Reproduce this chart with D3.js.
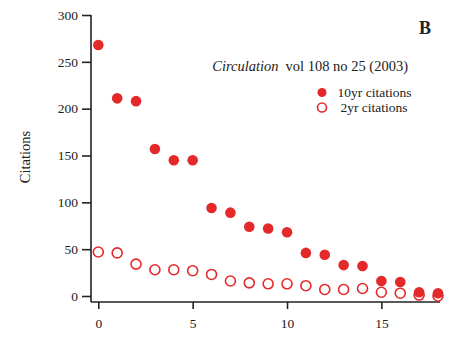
<!DOCTYPE html>
<html><head><meta charset="utf-8">
<script src="https://cdn.jsdelivr.net/npm/d3@7"></script>
<style>body{margin:0;background:#fff}svg{display:block}text{font-family:"Liberation Serif","Times New Roman",serif;fill:#222}</style>
</head><body><svg id="c" width="453" height="359"></svg>
<script>
const years = d3.range(0, 19);
const tenYr = [268,211,208,157,145,145,94,89,74,72,68,46,44,33,32,16,15,4,3];
const twoYr = [47,46,34,28,28,27,23,16,14,13,13,11,7,7,8,4,3,1,0];
const xTicks = [0,5,10,15];
const yTicks = [0,50,100,150,200,250,300];
const seriesNames = ["10yr citations","2yr citations"];
const red = "#e4292a";

const svg = d3.select("#c");
const x = d3.scaleLinear().domain([0,18]).range([98.3, 438.0]);
const y = d3.scaleLinear().domain([0,300]).range([296, 15]);

// y axis
const yg = svg.append("g").attr("transform","translate(91,0)");
yg.call(d3.axisLeft(y).tickValues(yTicks).tickSize(9).tickPadding(4));
yg.select(".domain").remove();
yg.append("line").attr("x1",0).attr("x2",0).attr("y1",y(300)).attr("y2",302).attr("stroke","#222").attr("stroke-width",1.6);
yg.selectAll(".tick line").attr("stroke","#222").attr("stroke-width",1.6);
yg.selectAll(".tick text").style("font-size","13.5px").attr("fill","#222");

// x axis
const xg = svg.append("g").attr("transform","translate(0,302)");
xg.call(d3.axisBottom(x).tickValues(xTicks).tickSize(7).tickPadding(9));
xg.select(".domain").remove();
xg.append("line").attr("x1",91).attr("x2",440).attr("y1",0).attr("y2",0).attr("stroke","#222").attr("stroke-width",1.6);
xg.selectAll(".tick line").attr("stroke","#222").attr("stroke-width",1.6);
xg.selectAll(".tick text").style("font-size","13.5px").attr("fill","#222");

// y label
svg.append("text").attr("transform","translate(30,157) rotate(-90)").attr("text-anchor","middle")
  .style("font-size","14.5px").text("Citations");

// 2yr open
svg.append("g").selectAll("circle").data(years).join("circle")
  .attr("cx",d=>x(d)).attr("cy",(d,i)=>y(twoYr[i])).attr("r",5)
  .attr("fill","none").attr("stroke",red).attr("stroke-width",1.6);
// 10yr filled
svg.append("g").selectAll("circle").data(years).join("circle")
  .attr("cx",d=>x(d)).attr("cy",(d,i)=>y(tenYr[i])).attr("r",5.3)
  .attr("fill",red);

// panel label
svg.append("text").attr("x",425).attr("y",34).attr("text-anchor","middle")
  .style("font-size","18px").style("font-weight","bold").text("B");

// title
const t = svg.append("text").attr("x",408).attr("y",71).attr("text-anchor","end").style("font-size","14.5px");
t.append("tspan").style("font-style","italic").text("Circulation");
t.append("tspan").attr("dx",7).text("vol 108 no 25 (2003)");

// legend
const lg = svg.append("g");
lg.append("circle").attr("cx",322).attr("cy",92.5).attr("r",4.5).attr("fill",red);
lg.append("circle").attr("cx",322).attr("cy",107.5).attr("r",4.5).attr("fill","none").attr("stroke",red).attr("stroke-width",1.6);
lg.append("text").attr("x",374.5).attr("y",97).attr("text-anchor","middle").style("font-size","13.5px").text(seriesNames[0]);
lg.append("text").attr("x",374).attr("y",112).attr("text-anchor","middle").style("font-size","13.5px").text(seriesNames[1]);
</script></body></html>
